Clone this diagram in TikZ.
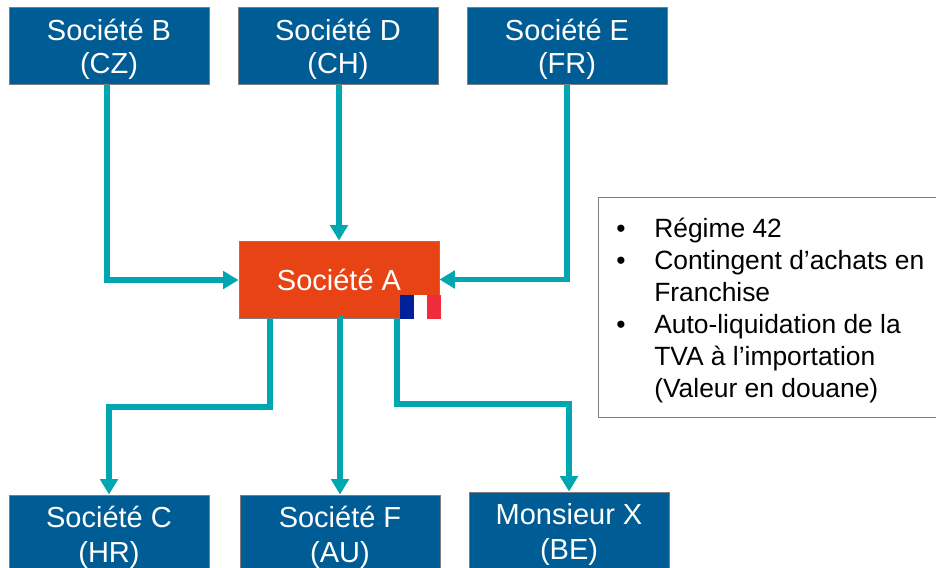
\documentclass[tikz,border=0pt]{standalone}
\usepackage{fontspec}
\setmainfont{Liberation Sans}
\usetikzlibrary{arrows.meta}
\definecolor{boxblue}{HTML}{005C94}
\definecolor{boxorange}{HTML}{E84315}
\definecolor{teal2}{HTML}{00A7B0}
\definecolor{edgegray}{HTML}{7F7F7F}
\definecolor{frblue}{HTML}{00209A}
\definecolor{frred}{HTML}{EF2B3C}
\newcommand{\lowerline}{\rule{0pt}{22pt}}
\tikzset{
  company/.style={draw=edgegray,line width=0.75pt,fill=boxblue,text=white,minimum width=150pt,minimum height=57.75pt,inner sep=0pt,align=center,font=\fontsize{21.75}{24.75}\selectfont},
  lower/.style={company,font=\fontsize{21.75}{26.25}\selectfont},
  link/.style={draw=teal2,line width=4.1pt,line join=miter,-{Triangle[length=11.5pt,width=13pt]}}
}
\begin{document}
\begin{tikzpicture}[x=0.75pt,y=-0.75pt]
\useasboundingbox (0,0) rectangle (936,568);
\clip (0,0) rectangle (936,568);
\fill[white] (0,0) rectangle (936,568);
\node[company] (b) at (109,45.5) {\lowerline Société B\\(CZ)};
\node[company] (d) at (338,45.5) {\lowerline Société D\\(CH)};
\node[company] (e) at (567,45.5) {\lowerline Société E\\(FR)};
\node[company,fill=boxorange] (a) at (339,279.5) {Société A};
\node[lower] (c) at (109,533.5) {\lowerline Société C\\(HR)};
\node[lower] (f) at (340,533.5) {\lowerline Société F\\(AU)};
\node[lower] (x) at (569,530.5) {\lowerline Monsieur X\\(BE)};
\node[draw=edgegray,line width=0.75pt,minimum width=255pt,minimum height=165pt,inner sep=0pt,anchor=north west] (note) at (598,197) {};
\node[anchor=north west,inner sep=0pt,font=\fontsize{19.8}{24}\selectfont] (notetext) at (616,215) {%
\begin{tabular}{@{}p{28.5pt}@{}l@{}}
•&Régime 42\\
•&Contingent d’achats en\\
&Franchise\\
•&Auto-liquidation de la\\
&TVA à l’importation\\
&(Valeur en douane)
\end{tabular}};
% connectors
\coordinate (bs) at ([xshift=-1.5pt]b.south);
\coordinate (aw) at ([yshift=-0.4pt]a.west);
\draw[link] (bs) -- (bs |- aw) -- (aw);
\draw[link] ([xshift=0.75pt]d.south) -- (a.north);
\draw[link] (e.south) -- (e.south |- a.east) -- (a.east);
\coordinate (a1) at ([xshift=-51.75pt]a.south);
\coordinate (m1) at (0,407);
\draw[link] (a1) -- (a1 |- m1) -- (c.north |- m1) -- (c.north);
\draw[link] (a.south) -- (a.south -| f.north) -- (f.north);
\coordinate (a2) at ([xshift=43.5pt]a.south);
\coordinate (m2) at (0,404);
\draw[link] (a2) -- (a2 |- m2) -- (x.north |- m2) -- (x.north);
% flag
\fill[frblue] (400,295) rectangle (413.6,319);
\fill[white] (413.6,295) rectangle (427.3,319);
\fill[frred] (427.3,295) rectangle (441,319);
\end{tikzpicture}
\end{document}
